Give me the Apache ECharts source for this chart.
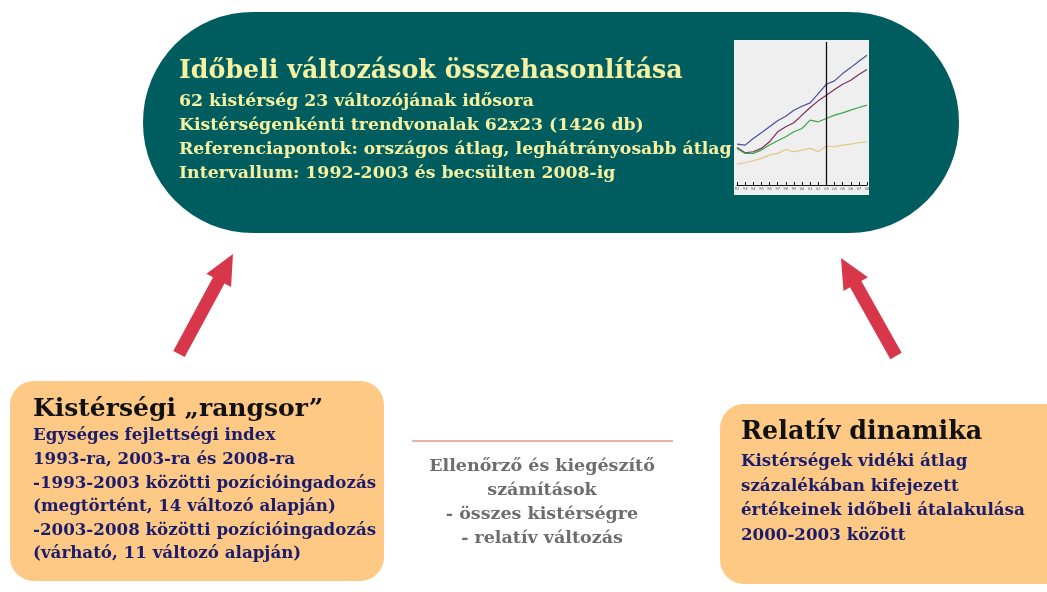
<!DOCTYPE html>
<html>
<head>
<meta charset="utf-8">
<script src="https://cdn.jsdelivr.net/npm/echarts@6/dist/echarts.min.js"></script>
<style>
  html, body { margin: 0; background: #fff; }
  #main { width: 1047px; height: 592px; }
</style>
</head>
<body>
<div id="main"></div>
<script>
// small trend chart inside the pill
var years = ['1992','1993','1994','1995','1996','1997','1998','1999','2000','2001','2002','2003','2004','2005','2006','2007','2008'];
var seriesBlue   = [123,120,140,157,175,193,207,225,237,247,275,303,313,335,353,372,390];
var seriesPurple = [113, 97,100,110,130,160,175,187,210,233,253,270,287,303,315,332,347];
var seriesGreen  = [110, 95, 95,105,120,133,145,160,170,195,190,200,210,217,225,233,240];
var seriesTan    = [ 63, 67, 73, 80, 90, 95,107,100,105,110,100,117,115,120,123,127,130];
var cutYear = '2003';

// texts
var topTitle = 'Időbeli változások összehasonlítása';
var topLines = [
  '62 kistérség 23 változójának idősora',
  'Kistérségenkénti trendvonalak 62x23 (1426 db)',
  'Referenciapontok: országos átlag, leghátrányosabb átlag',
  'Intervallum: 1992-2003 és becsülten 2008-ig'
];
var leftTitle = 'Kistérségi \u201erangsor\u201d';
var leftLines = [
  'Egységes fejlettségi index',
  '1993-ra, 2003-ra és 2008-ra',
  '-1993-2003 közötti pozícióingadozás',
  '(megtörtént, 14 változó alapján)',
  '-2003-2008 közötti pozícióingadozás',
  '(várható, 11 változó alapján)'
];
var midLines = [
  'Ellenőrző és kiegészítő',
  'számítások',
  '- összes kistérségre',
  '- relatív változás'
];
var rightTitle = 'Relatív dinamika';
var rightLines = [
  'Kistérségek vidéki átlag',
  'százalékában kifejezett',
  'értékeinek időbeli átalakulása',
  '2000-2003 között'
];

var SERIF = '"DejaVu Serif", "Liberation Serif", serif';

function txt(x, y, s, size, fill, align) {
  return {
    type: 'text', x: x, y: y, z: 10,
    style: {
      text: s, font: 'bold ' + size + 'px ' + SERIF, fill: fill,
      textAlign: align || 'left', textVerticalAlign: 'middle'
    }
  };
}

// block arrow from tail to tip
function arrow(x1, y1, x2, y2) {
  var dx = x2 - x1, dy = y2 - y1;
  var len = Math.sqrt(dx * dx + dy * dy);
  var ux = dx / len, uy = dy / len, nx = -uy, ny = ux;
  var sw = 6.5, hw = 14, hl = 30;
  var bx = x2 - ux * hl, by = y2 - uy * hl;
  var pts = [
    [x1 + nx * sw, y1 + ny * sw],
    [bx + nx * sw, by + ny * sw],
    [bx + nx * hw, by + ny * hw],
    [x2, y2],
    [bx - nx * hw, by - ny * hw],
    [bx - nx * sw, by - ny * sw],
    [x1 - nx * sw, y1 - ny * sw]
  ];
  return { type: 'polygon', z: 5, shape: { points: pts }, style: { fill: '#d8374b' } };
}

var els = [];
els.push({ type: 'rect', z: 0, shape: { x: 143, y: 12, width: 816, height: 221, r: 110 }, style: { fill: '#005d5f' } });
els.push({ type: 'rect', z: 1, shape: { x: 734, y: 40, width: 135, height: 155 }, style: { fill: '#efefef' } });
els.push(txt(179, 71, topTitle, 25.3, '#f6f1a2'));
topLines.forEach(function (s, i) { els.push(txt(179, 102 + i * 24, s, 17.3, '#f6f1a2')); });

els.push({ type: 'rect', z: 0, shape: { x: 10, y: 381, width: 374, height: 200, r: 24 }, style: { fill: '#fdc985' } });
els.push(txt(33, 409, leftTitle, 25, '#111'));
leftLines.forEach(function (s, i) { els.push(txt(33, 436 + i * 23.6, s, 16.7, '#1c1c6c')); });

els.push({ type: 'line', z: 1, shape: { x1: 412, y1: 441, x2: 673, y2: 441 }, style: { stroke: '#d9634f', lineWidth: 1.2 } });
midLines.forEach(function (s, i) { els.push(txt(542, 466 + i * 24, s, 17.5, '#6d6d6d', 'center')); });

els.push({ type: 'rect', z: 0, shape: { x: 720, y: 404, width: 360, height: 180, r: 24 }, style: { fill: '#fdc985' } });
els.push(txt(741, 432, rightTitle, 25.4, '#111'));
rightLines.forEach(function (s, i) { els.push(txt(741, 462 + i * 24.5, s, 16.7, '#1c1c6c')); });

els.push(arrow(179, 354, 233, 254));
els.push(arrow(896, 356, 841, 258));

function line(data, color) {
  return { type: 'line', data: data, symbol: 'none', z: 3, lineStyle: { color: color, width: 1.2 } };
}

var chart = echarts.init(document.getElementById('main'));
var series = [
  line(seriesBlue, '#4b4f9e'),
  line(seriesPurple, '#7d2d5e'),
  line(seriesGreen, '#3da447'),
  line(seriesTan, '#e4c487')
];
series[0].markLine = {
  symbol: 'none', silent: true, label: { show: false },
  lineStyle: { color: '#111', width: 1.3, type: 'solid' },
  data: [{ xAxis: cutYear }]
};

chart.setOption({
  animation: false,
  backgroundColor: '#fff',
  graphic: { elements: els },
  grid: { left: 737, top: 42, width: 130, height: 143, containLabel: false },
  xAxis: {
    type: 'category', data: years, boundaryGap: false, z: 5,
    axisLine: { show: true, onZero: false, lineStyle: { color: '#111', width: 1 } },
    axisTick: { show: true, inside: true, length: 3, lineStyle: { color: '#111' } },
    axisLabel: { show: true, fontSize: 4, color: '#555', margin: 2, interval: 0, hideOverlap: false,
      formatter: function (v) { return v.slice(2); } }
  },
  yAxis: {
    type: 'value', min: 0, max: 430,
    axisLine: { show: false }, axisTick: { show: false },
    axisLabel: { show: false }, splitLine: { show: false }
  },
  series: series
});
</script>
</body>
</html>
